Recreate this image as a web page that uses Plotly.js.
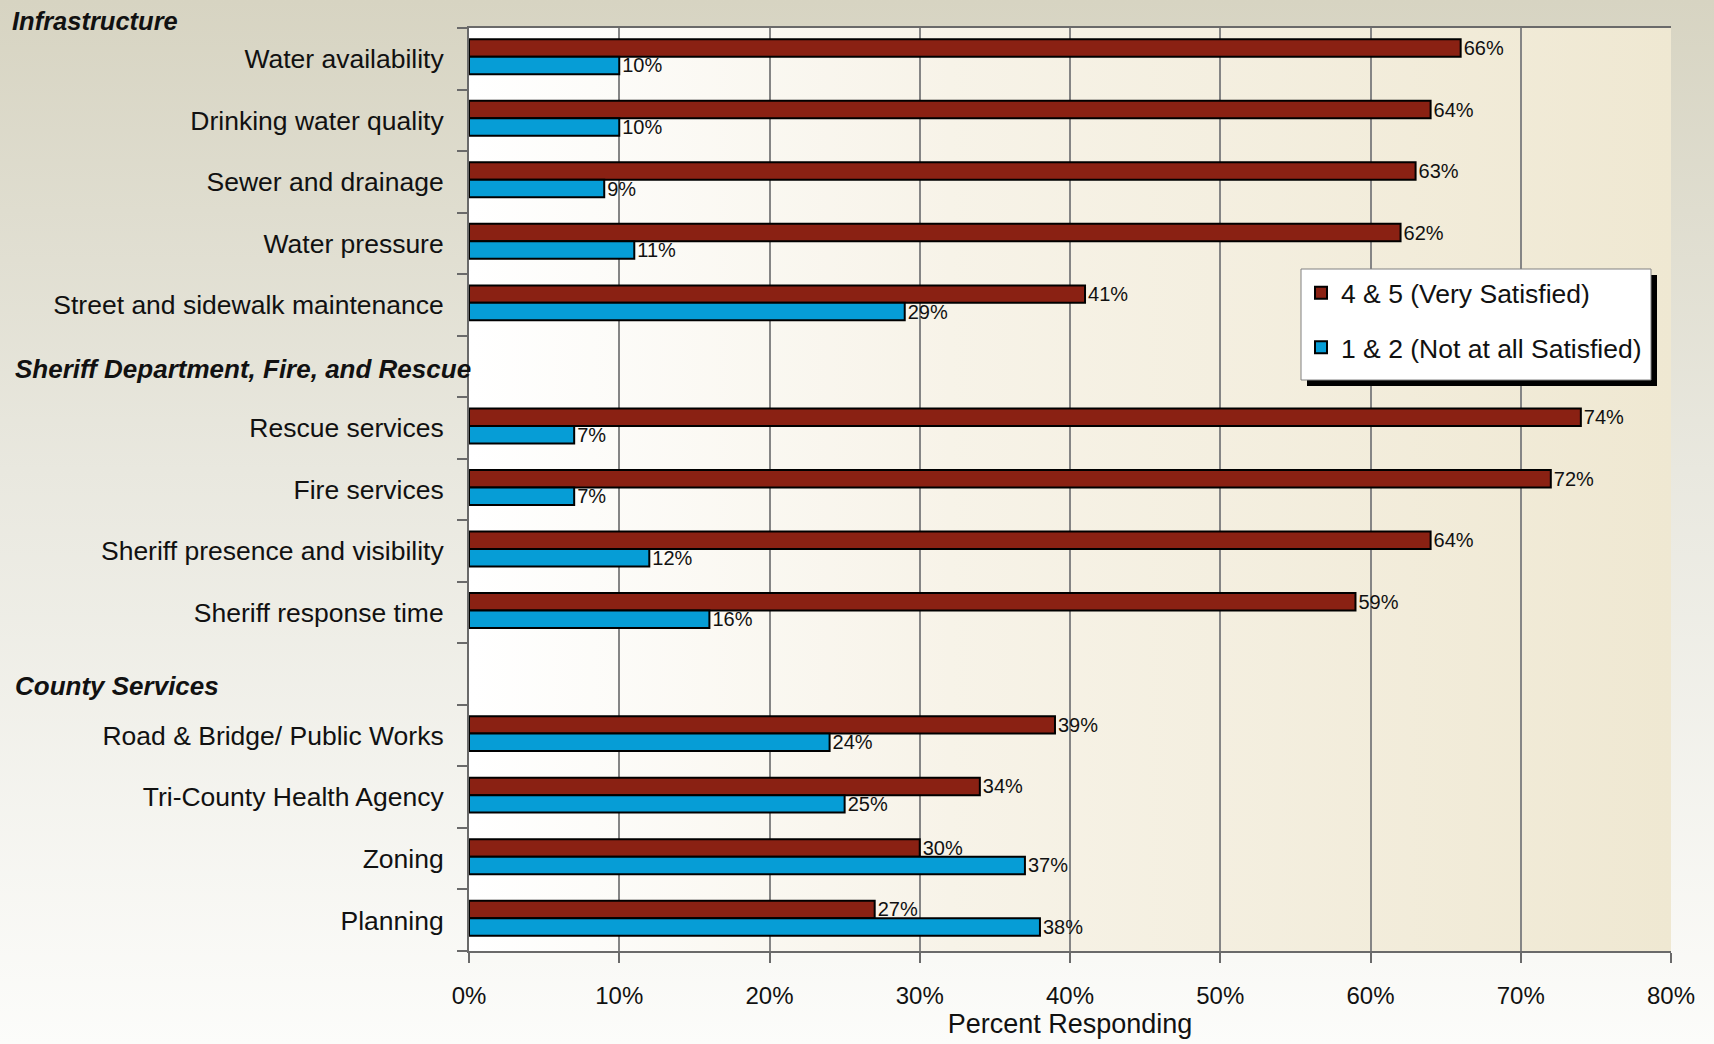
<!DOCTYPE html>
<html>
<head>
<meta charset="utf-8">
<script src="https://cdn.plot.ly/plotly-3.0.1.min.js"></script>
<style>
  html, body { margin: 0; padding: 0; }
  body {
    width: 1714px; height: 1044px; overflow: hidden;
    background: linear-gradient(to bottom, #d7d4c2 0%, #e9e8df 45%, #fcfcfa 100%);
    position: relative;
  }
  #plotbg {
    position: absolute; left: 469px; top: 28px; width: 1202px; height: 923px;
    background: linear-gradient(to right, #ffffff 0%, #f7f3e8 40%, #efe8d2 100%);
    z-index: 0;
  }
  #chart { position: absolute; left: 0; top: 0; width: 1714px; height: 1044px; z-index: 1; }
</style>
</head>
<body>
<div id="plotbg"></div>
<div id="chart"></div>
<script>
// ---- data ----
const categories = [
  "Water availability", "Drinking water quality", "Sewer and drainage", "Water pressure",
  "Street and sidewalk maintenance",
  "Sheriff Department, Fire, and Rescue",
  "Rescue services", "Fire services", "Sheriff presence and visibility", "Sheriff response time",
  "County Services",
  "Road & Bridge/ Public Works", "Tri-County Health Agency", "Zoning", "Planning"
];
const headerRows = ["Sheriff Department, Fire, and Rescue", "County Services"];
const topHeader = "Infrastructure";
const verySatisfied = [66, 64, 63, 62, 41, null, 74, 72, 64, 59, null, 39, 34, 30, 27];
const notSatisfied  = [10, 10, 9, 11, 29, null, 7, 7, 12, 16, null, 24, 25, 37, 38];
const seriesNames = ["4 & 5 (Very Satisfied)", "1 & 2 (Not at all Satisfied)"];
const xTicks = [0, 10, 20, 30, 40, 50, 60, 70, 80];

const FONT = "'Liberation Sans', Arial, sans-serif";

const tickText = categories.map(c => headerRows.includes(c) ? "" : c);

const mkTrace = (name, vals, color, group, off) => ({
  type: "bar", orientation: "h", name: name,
  y: categories, x: vals,
  offset: off, width: 0.284,
  marker: { color: color, line: { color: "#000000", width: 2 } },
  text: vals.map(v => v === null ? "" : v + "%"),
  textposition: "outside", constraintext: "none", cliponaxis: false,
  textfont: { family: FONT, size: 20, color: "#111111" },
  legendgroup: group, hoverinfo: "x+y"
});

const data = [
  mkTrace(seriesNames[0], verySatisfied, "#8a2113", "a", -0.317),
  mkTrace(seriesNames[1], notSatisfied, "#069dd6", "b", -0.033)
];

const L = 469, R = 1671, T = 28, B = 951;
const px = x => (x - L) / (R - L);
const py = y => (B - y) / (B - T);

const layout = {
  width: 1714, height: 1044,
  margin: { l: L, r: 1714 - R, t: T, b: 1044 - B, pad: 0 },
  paper_bgcolor: "rgba(0,0,0,0)", plot_bgcolor: "rgba(0,0,0,0)",
  font: { family: FONT, color: "#111111" },
  barmode: "group",
  showlegend: true,
  legend: {
    x: px(1301), y: py(269), xanchor: "left", yanchor: "top",
    bgcolor: "rgba(0,0,0,0)", borderwidth: 0,
    font: { family: FONT, size: 26.5, color: "#111111" },
    traceorder: "grouped", tracegroupgap: 17
  },
  xaxis: {
    range: [0, 80], tickvals: xTicks, ticktext: xTicks.map(v => v + "%"),
    showgrid: true, gridcolor: "#858585", gridwidth: 2,
    showline: true, linecolor: "#6a6a6a", linewidth: 2, mirror: true,
    ticks: "outside", ticklen: 10, tickcolor: "#6a6a6a", tickwidth: 2,
    zeroline: false,
    tickfont: { family: FONT, size: 24, color: "#111111" },
    ticklabelstandoff: 12,
    title: { text: "Percent Responding", font: { family: FONT, size: 27, color: "#111111" }, standoff: 5 },
    fixedrange: true
  },
  yaxis: {
    type: "category", categoryorder: "array", categoryarray: categories,
    tickvals: categories, ticktext: tickText,
    autorange: "reversed",
    showgrid: false, showline: true, linecolor: "#6a6a6a", linewidth: 2,
    ticks: "outside", ticklen: 10, tickcolor: "#6a6a6a", tickwidth: 2,
    tickson: "boundaries",
    tickfont: { family: FONT, size: 26.5, color: "#111111" },
    ticklabelstandoff: 18,
    fixedrange: true
  },
  shapes: [
    { type: "rect", xref: "paper", yref: "paper", layer: "above",
      x0: px(1307), x1: px(1657), y0: py(386), y1: py(275),
      fillcolor: "#000000", line: { width: 0 } },
    { type: "rect", xref: "paper", yref: "paper", layer: "above",
      x0: px(1301), x1: px(1651), y0: py(380), y1: py(269),
      fillcolor: "#ffffff", line: { color: "#808080", width: 1 } }
  ],
  annotations: [
    { text: "<b><i>" + topHeader + "</i></b>", xref: "paper", yref: "paper",
      x: px(10), y: py(21), xanchor: "left", yanchor: "middle", showarrow: false,
      font: { family: FONT, size: 25.5, color: "#111111" } },
    { text: "<b><i>" + headerRows[0] + "</i></b>", xref: "paper", yref: "y",
      x: px(13), y: headerRows[0], yshift: -3, xanchor: "left", yanchor: "middle", showarrow: false,
      font: { family: FONT, size: 26, color: "#111111" } },
    { text: "<b><i>" + headerRows[1] + "</i></b>", xref: "paper", yref: "y",
      x: px(13), y: headerRows[1], yshift: -12, xanchor: "left", yanchor: "middle", showarrow: false,
      font: { family: FONT, size: 26, color: "#111111" } }
  ]
};

Plotly.newPlot("chart", data, layout, { displayModeBar: false });
</script>
</body>
</html>
